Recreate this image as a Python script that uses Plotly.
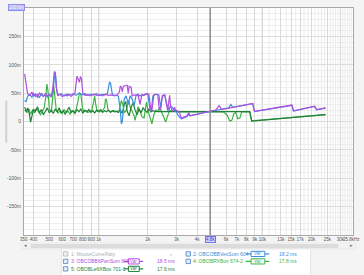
import plotly.graph_objects as go
import math

# ---------------- data ----------------
purple_f = [353,360,368,380,391,400,411,423,435,447,460,473,486,500,514,525,536,543,551,562,582,599,624,641,660,679,698,717,737,753,763,774,785,801,824,859,895,933,973,1014,1057,1102,1149,1197,1248,1301,1338,1357,1376,1395,1414,1454,1494,1516,1537,1580,1602,1647,1693,1741,1790,1815,1841,1893,1919,1973,2028,2085,2115,2174,2235,2298,2347,2396,2450,2532,2604,2640,2714,2751,2830,2910,2950,3032,3118,3206,3296,3435,3532,3585,4931,5200,5450,5650,8730,8960,15160,15500,20860,21450,24330]
purple_ms = [84,70,49,46,52,45,48,43,50,46,44,49,45,47,43,60,88,86,60,46,48,44,47,45,48,44,47,50,80,74,69,79,76,50,46,47,45,48,46,47,45,48,46,47,45,47,52,63,60,52,62,63,64,50,62,60,45,47,46,47,30,40,47,46,48,49,48,20,19,47,48,47,20,22,46,47,30,19,46,26,18,25,20,19,16,5,8,9,14,10,19,20,28,21,32,18,29,19,27,21,24]

blue_f = [353,360,369,380,391,400,411,423,435,447,460,473,486,500,514,528,540,547,555,566,590,615,641,669,698,727,758,790,824,859,895,933,973,1014,1057,1102,1133,1165,1181,1197,1214,1266,1320,1357,1376,1395,1414,1434,1474,1516,1558,1602,1647,1693,1741,1790,1841,1893,1946,2000,2056,2100,2145,2235,2330,2396,2450,2532,2604,2677,2751,2870,2991,3075,3162,3250,3343,3483,3558,3637,4931,5900,6250,6420,6600,8730,8960,15160,15500,20860,21450,24330]
blue_ms = [37,35,45,47,43,50,44,48,42,50,45,47,43,48,45,55,88,80,55,46,49,45,48,46,49,46,50,47,49,46,48,47,49,46,48,47,50,69,68,55,47,46,45,20,-4,0,25,40,45,30,45,40,28,46,48,45,47,46,49,47,22,20,45,48,47,25,44,47,32,20,28,22,16,10,6,5,7,9,15,10,18.5,23,24,30,25,31.5,17.5,28.5,18.5,26.5,20.5,23.5]

lgreen_f = [353,365,375,384,395,406,417,429,441,454,466,476,483,490,500,514,525,532,540,551,566,582,599,615,633,651,669,688,707,727,747,763,779,796,812,835,859,883,908,933,946,960,980,1014,1057,1088,1102,1118,1141,1181,1231,1284,1338,1376,1405,1434,1474,1530,1558,1602,1647,1670,1707,1741,1790,1841,1893,1960,2000,2056,2115,2174,2235,2298,2363,2430,2497,2568,2640,2714,2790,2910,3075,4356,5740,6070,6330,6510,6700,6880,7075,7290,7480,8370,8610,24330]
lgreen_ms = [20,16,22,13,20,15,23,17,12,18,25,45,66,55,22,17,40,63,45,20,15,19,14,21,16,18,13,19,16,20,35,51,48,25,17,19,16,18,20,35,45,30,18,17,19,25,40,38,20,17,19,17,20,37,30,15,20,37,25,18,10,2,15,26,18,8,6,34,20,10,-4,12,20,18,25,16,8,-1,10,20,18,19,17,17.5,17.5,12,1,2,14,16,5,6,17,17.5,1,12]

dgreen_f = [353,362,369,377,384,393,400,411,423,435,447,460,473,486,500,514,528,543,558,574,590,607,624,641,660,679,698,717,737,758,779,801,824,847,871,895,920,946,973,1000,1028,1057,1088,1118,1149,1181,1214,1248,1284,1320,1357,1395,1434,1464,1494,1537,1580,1625,1670,1717,1765,1815,1867,1919,1973,2028,2085,2145,2204,2330,2677,3296,4356,6600,8370,8610,24330]
dgreen_ms = [25,18,24,14,-1,10,22,18,26,15,21,12,19,24,15,20,14,22,17,24,15,19,13,20,25,16,19,14,21,17,22,15,20,17,21,16,19,15,20,18,21,16,19,17,20,16,19,17,18,16,20,14,30,35,18,10,25,33,20,12,22,15,24,20,16,22,17,19,18,17.5,17.5,17.5,17.5,17.5,17.5,0.5,12]

for a, b in [(purple_f, purple_ms), (blue_f, blue_ms), (lgreen_f, lgreen_ms), (dgreen_f, dgreen_ms)]:
    assert len(a) == len(b), (len(a), len(b))

x_start, x_end = 350, 35800
x_start_label, x_end_label = "350", "35.8kHz"
x_tick_vals = [400,500,600,700,800,900,1000,2000,3000,4000,6000,7000,8000,9000,10000,13000,15000,17000,20000,25000,30000]
x_tick_text = ["400","500","600","700","800","900","1k","2k","3k","4k","6k","7k","8k","9k","10k","13k","15k","17k","20k","25k","30k"]
x_minor_vals = [11000,12000,14000,16000,18000,19000,21000,22000,23000,24000,26000,27000,28000,29000,31000,32000,33000,34000,35000]
y_tick_vals = [-150,-100,-50,0,50,100,150]
y_tick_text = ["-150m","-100m","-50m","0","50m","100m","150m"]
y_minor_vals = [v for v in range(-190, 200, 10) if v % 50 != 0]

cursor_freq = 4800
cursor_label = "4.8k"
top_label = "200.0m"

legend_rows = [
    # name, color, value, column, row
    ("3: OBCOBB6PanSum 608", "#b24ee0", "18.5 ms", 0, 1),
    ("5: OBOBLeftXBox 701-1", "#1f8038", "17.6 ms", 0, 2),
    ("2: OBCOBBVesSum 604", "#3b8ee0", "18.2 ms", 1, 0),
    ("4: OBOBRXBox 674-2", "#3cb446", "17.8 ms", 1, 1),
]
legend_off = "1: MouseCurveRaty"

# ---------------- figure ----------------
W, H = 364, 275
L, R, T, B = 19, 353, 7, 235
PW, PH = R - L, B - T

def fx(px):
    return (px - L) / PW

def fy(py):
    return (B - py) / PH

fig = go.Figure()
series = [
    (lgreen_f, lgreen_ms, "#3cb446"),
    (dgreen_f, dgreen_ms, "#1f8038"),
    (blue_f, blue_ms, "#3b8ee0"),
    (purple_f, purple_ms, "#b24ee0"),
]
for f, v, c in series:
    fig.add_trace(go.Scatter(x=f, y=v, mode="lines", line=dict(color=c, width=1.2),
                             showlegend=False, hoverinfo="skip"))

font = "Liberation Sans, Arial, sans-serif"
shapes = []
annotations = []

def note(px, py, text, size=5, color="#555555", xa="center", **kw):
    annotations.append(dict(x=fx(px), xref="paper", y=fy(py), yref="paper", text=text,
                            showarrow=False, xanchor=xa, yanchor="middle",
                            font=dict(size=size, color=color, family=kw.pop("family", font)), **kw))

# minor vertical grid lines
for mv in x_minor_vals:
    shapes.append(dict(type="line", xref="x", yref="paper", x0=mv, x1=mv, y0=0, y1=1,
                       line=dict(color="#ebebeb", width=1), layer="below"))
# decade lines
for dv in [1000, 10000]:
    shapes.append(dict(type="line", xref="x", yref="paper", x0=dv, x1=dv, y0=0, y1=1,
                       line=dict(color="#c4c4c4", width=1.2), layer="below"))
# cursor
shapes.append(dict(type="line", xref="x", yref="paper", x0=cursor_freq, x1=cursor_freq, y0=0, y1=1,
                   line=dict(color="#8a8a8a", width=1.5)))
annotations.append(dict(x=math.log10(cursor_freq), xref="x", y=fy(239.5), yref="paper",
                        xanchor="center", yanchor="middle",
                        text=cursor_label, showarrow=False, font=dict(size=4.5, color="#3a3ad0", family=font),
                        bgcolor="#d4d4ff", bordercolor="#7070f0", borderwidth=1, borderpad=0))
note(3, 6.5, top_label, size=4.5, color="#f4f4ff", xa="left",
     bgcolor="#b8b8f4", bordercolor="#8c8cf0", borderwidth=1, borderpad=0)

# x axis edge labels
note(19.5, 239.5, x_start_label, size=4.5)
note(362, 239.5, x_end_label, size=4.5, xa="right")

# scrollbar
shapes.append(dict(type="rect", xref="paper", yref="paper", x0=fx(16), x1=fx(356), y0=fy(249), y1=fy(243),
                   fillcolor="#f2f2f2", line=dict(color="#e4e4e4", width=0.5)))
shapes.append(dict(type="rect", xref="paper", yref="paper", x0=fx(26), x1=fx(338), y0=fy(248), y1=fy(244),
                   fillcolor="#dcdcdc", line=dict(width=0)))
note(21, 245.5, "◂", size=5, color="#707070")
note(351, 245.5, "▸", size=5, color="#707070")
# small left panel
shapes.append(dict(type="rect", xref="paper", yref="paper", x0=fx(0), x1=fx(2), y0=fy(142), y1=fy(100),
                   fillcolor="#d0d0d0", line=dict(width=0)))

# legend box
shapes.append(dict(type="rect", xref="paper", yref="paper", x0=fx(57), x1=fx(310), y0=fy(280), y1=fy(249),
                   fillcolor="#ffffff", line=dict(color="#e0e0e0", width=0.8)))
row_y = [254, 261.5, 269]
col_x = [(59, 64.5, 120, 140, 125, 136, 152), (183.5, 189, 244, 268, 249.5, 263.5, 276)]

def checkbox(cx, cy, on=True):
    shapes.append(dict(type="rect", xref="paper", yref="paper", x0=fx(cx), x1=fx(cx + 4.5),
                       y0=fy(cy + 2.2), y1=fy(cy - 2.2),
                       fillcolor="#e4ecf8" if on else "#f0f0f0",
                       line=dict(color="#4d7fc8" if on else "#b0b0b0", width=0.8)))

cb, tx, l0, l1, b0, b1, vx = col_x[0]
checkbox(cb, row_y[0], on=False)
note(tx, row_y[0], legend_off, size=5, color="#b0b0b0", xa="left")
note(168, row_y[0], "›", size=5, color="#a0a0a0")

for name, color, val, col, row in legend_rows:
    cb, tx, l0, l1, b0, b1, vx = col_x[col]
    yy = row_y[row]
    checkbox(cb, yy)
    note(tx, yy, name, size=5, color=color, xa="left")
    shapes.append(dict(type="line", xref="paper", yref="paper", x0=fx(l0), x1=fx(l1), y0=fy(yy), y1=fy(yy),
                       line=dict(color=color, width=1.2)))
    shapes.append(dict(type="rect", xref="paper", yref="paper", x0=fx(b0), x1=fx(b1), y0=fy(yy + 2.6), y1=fy(yy - 2.6),
                       fillcolor="#ffffff", line=dict(color=color, width=1)))
    note((b0 + b1) / 2, yy, "Var", size=4.5, color=color)
    note(vx, yy, val, size=5, color=color, xa="left")

fig.update_layout(
    width=W, height=H,
    margin=dict(l=L, r=W - R, t=T, b=H - B, pad=0),
    paper_bgcolor="#f4f4f4", plot_bgcolor="#ffffff",
    shapes=shapes, annotations=annotations,
    showlegend=False,
    font=dict(family=font, size=5, color="#555555"),
)
fig.update_xaxes(
    type="log", range=[math.log10(x_start), math.log10(x_end)],
    tickmode="array", tickvals=x_tick_vals, ticktext=x_tick_text, tickangle=0,
    ticks="", showgrid=True, gridcolor="#d9d9d9", gridwidth=1,
    showline=True, linecolor="#a8a8a8", linewidth=1, mirror=True,
    tickfont=dict(size=4.5, color="#555555", family=font), zeroline=False, fixedrange=True,
)
fig.update_yaxes(
    range=[-200, 200], tickmode="array", tickvals=y_tick_vals, ticktext=y_tick_text,
    ticks="", showgrid=True, gridcolor="#dcdcdc", gridwidth=1,
    minor=dict(tickvals=y_minor_vals, showgrid=True, gridcolor="#eeeeee", ticks=""),
    showline=True, linecolor="#a8a8a8", linewidth=1, mirror=True, zeroline=False,
    tickfont=dict(size=5, color="#555555", family=font), ticklabelstandoff=1, fixedrange=True,
)
fig.write_html("out.html", config={"displayModeBar": False})
